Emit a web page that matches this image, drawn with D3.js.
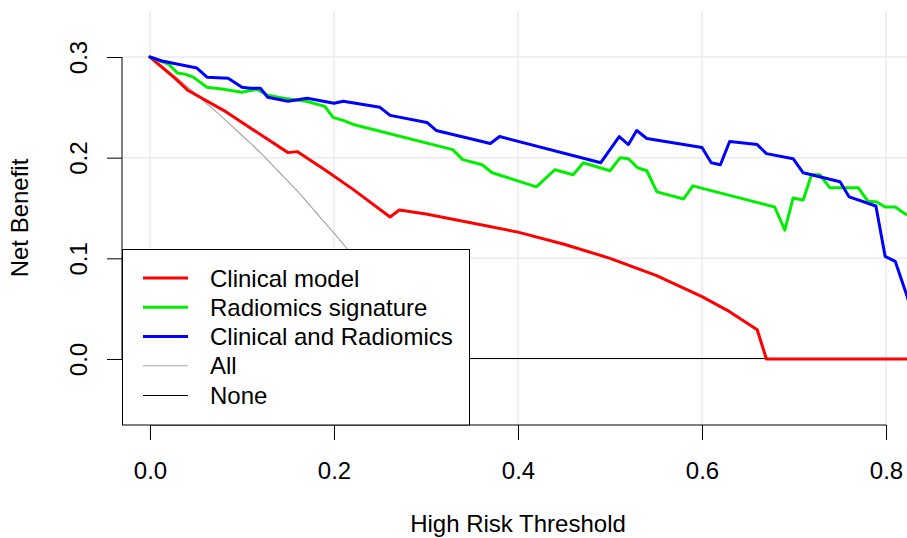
<!DOCTYPE html>
<html>
<head>
<meta charset="utf-8">
<script src="https://cdn.jsdelivr.net/npm/d3@7"></script>
<style>
  body { margin: 0; background: #fff; }
  svg { display: block; font-family: "Liberation Sans", Arial, sans-serif; }
</style>
</head>
<body>
<div id="chart"></div>
<script>
// data (threshold, net benefit)
const clinical = [[0, 0.300], [0.027, 0.279], [0.041, 0.267], [0.08, 0.247], [0.11, 0.229], [0.15, 0.205],
  [0.16, 0.206], [0.19, 0.188], [0.22, 0.169], [0.261, 0.141], [0.271, 0.148], [0.30, 0.144], [0.35, 0.135],
  [0.40, 0.126], [0.45, 0.114], [0.50, 0.100], [0.55, 0.083], [0.60, 0.062], [0.63, 0.047], [0.66, 0.029],
  [0.67, 0.000], [0.84, 0.000]];

const radiomics = [[0, 0.300], [0.02, 0.293], [0.03, 0.284], [0.038, 0.283], [0.047, 0.280], [0.062, 0.270],
  [0.08, 0.268], [0.10, 0.265], [0.116, 0.268], [0.128, 0.262], [0.145, 0.259], [0.17, 0.256], [0.19, 0.251],
  [0.199, 0.240], [0.21, 0.237], [0.221, 0.233], [0.329, 0.208], [0.34, 0.198], [0.361, 0.193], [0.372, 0.185],
  [0.42, 0.171], [0.44, 0.188], [0.46, 0.183], [0.471, 0.195], [0.50, 0.187], [0.511, 0.200], [0.52, 0.199],
  [0.53, 0.190], [0.54, 0.187], [0.551, 0.166], [0.58, 0.159], [0.59, 0.172], [0.679, 0.151], [0.69, 0.128],
  [0.699, 0.160], [0.71, 0.158], [0.719, 0.183], [0.728, 0.183], [0.739, 0.170], [0.77, 0.170], [0.78, 0.157],
  [0.79, 0.156], [0.799, 0.151], [0.81, 0.151], [0.821, 0.144], [0.83, 0.140]];

const combined = [[0, 0.300], [0.013, 0.296], [0.051, 0.289], [0.062, 0.280], [0.085, 0.279], [0.09, 0.276],
  [0.10, 0.270], [0.109, 0.269], [0.12, 0.269], [0.128, 0.260], [0.15, 0.256], [0.171, 0.259], [0.2, 0.254],
  [0.21, 0.256], [0.25, 0.250], [0.261, 0.242], [0.301, 0.235], [0.311, 0.227], [0.37, 0.214], [0.38, 0.221],
  [0.49, 0.195], [0.51, 0.221], [0.52, 0.213], [0.529, 0.227], [0.54, 0.219], [0.60, 0.210], [0.61, 0.195],
  [0.62, 0.193], [0.63, 0.216], [0.66, 0.213], [0.67, 0.204], [0.699, 0.199], [0.71, 0.185], [0.75, 0.176],
  [0.76, 0.161], [0.789, 0.152], [0.799, 0.102], [0.81, 0.097], [0.823, 0.062], [0.83, 0.040]];

const treatAll = [[0, 0.300], [0.02, 0.286], [0.04, 0.271], [0.06, 0.255], [0.08, 0.239], [0.10, 0.222],
  [0.12, 0.205], [0.14, 0.186], [0.16, 0.167], [0.18, 0.146], [0.20, 0.125], [0.22, 0.103], [0.24, 0.079],
  [0.26, 0.054], [0.28, 0.028], [0.30, 0.000], [0.32, -0.029], [0.34, -0.061]];

const treatNone = [[0, 0], [0.84, 0]];

const seriesNames = ["Clinical model", "Radiomics signature", "Clinical and Radiomics", "All", "None"];
const seriesColors = ["#ff0000", "#00ee00", "#0000ff", "#a6a6a6", "#000000"];
const seriesWidths = [3, 3, 3, 1.2, 1];

const xTicks = [0, 0.2, 0.4, 0.6, 0.8];
const yTicks = [0, 0.1, 0.2, 0.3];

//constants
const width = 907,
    height = 538,
    plot = { left: 122, right: 914, top: 11, bottom: 425 };

const xScale = d3.scaleLinear()
    .domain([-0.0304, 0.8304])
    .range([plot.left, plot.right]);

const yScale = d3.scaleLinear()
    .domain([-0.0656, 0.3457])
    .range([plot.bottom, plot.top]);

const svg = d3.select("#chart")
    .append("svg")
    .attr("width", width)
    .attr("height", height);

svg.append("defs").append("clipPath")
    .attr("id", "clip")
    .append("rect")
    .attr("x", plot.left)
    .attr("y", plot.top)
    .attr("width", plot.right - plot.left)
    .attr("height", plot.bottom - plot.top);

// grid
const grid = svg.append("g").attr("stroke", "#ebebeb").attr("stroke-width", 1.5);
grid.selectAll("line.vx")
    .data(xTicks)
    .join("line")
    .attr("class", "vx")
    .attr("x1", d => xScale(d)).attr("x2", d => xScale(d))
    .attr("y1", plot.top).attr("y2", plot.bottom);
grid.selectAll("line.hy")
    .data(yTicks)
    .join("line")
    .attr("class", "hy")
    .attr("x1", plot.left).attr("x2", plot.right)
    .attr("y1", d => yScale(d)).attr("y2", d => yScale(d));

// curves
const lineFunc = d3.line()
    .x(d => xScale(d[0]))
    .y(d => yScale(d[1]));

const smoothLine = d3.line()
    .x(d => xScale(d[0]))
    .y(d => yScale(d[1]))
    .curve(d3.curveMonotoneX);

const drawOrder = [
    { data: treatAll, i: 3, smooth: true },
    { data: treatNone, i: 4 },
    { data: clinical, i: 0 },
    { data: radiomics, i: 1 },
    { data: combined, i: 2 }
];

svg.append("g")
    .attr("clip-path", "url(#clip)")
    .selectAll("path")
    .data(drawOrder)
    .join("path")
    .attr("fill", "none")
    .attr("stroke", d => seriesColors[d.i])
    .attr("stroke-width", d => seriesWidths[d.i])
    .attr("stroke-linejoin", "round")
    .attr("stroke-linecap", "round")
    .attr("shape-rendering", d => d.i === 4 ? "crispEdges" : null)
    .attr("d", d => d.smooth ? smoothLine(d.data) : lineFunc(d.data));

// axes
const xAxis = d3.axisBottom(xScale)
    .tickValues(xTicks)
    .tickFormat(d3.format(".1f"))
    .tickSize(15)
    .tickPadding(22);

const yAxis = d3.axisLeft(yScale)
    .tickValues(yTicks)
    .tickFormat(d3.format(".1f"))
    .tickSize(15);

const gx = svg.append("g")
    .attr("transform", `translate(0,${plot.bottom})`)
    .call(xAxis);
gx.select(".domain").remove();
gx.append("line")
    .attr("x1", xScale(0)).attr("x2", xScale(0.8))
    .attr("stroke", "#000");

const gy = svg.append("g")
    .attr("transform", `translate(${plot.left},0)`)
    .call(yAxis);
gy.select(".domain").remove();
gy.append("line")
    .attr("y1", yScale(0)).attr("y2", yScale(0.3))
    .attr("stroke", "#000");
gy.selectAll(".tick text")
    .attr("x", null)
    .attr("dy", null)
    .attr("text-anchor", "middle")
    .attr("transform", "translate(-35,0) rotate(-90)");

svg.selectAll(".tick text")
    .attr("font-family", "Liberation Sans, Arial, sans-serif")
    .attr("font-size", 24)
    .attr("fill", "#000");
svg.selectAll(".tick line").attr("stroke", "#000");

// axis titles
svg.append("text")
    .attr("x", (plot.left + plot.right) / 2)
    .attr("y", 532)
    .attr("text-anchor", "middle")
    .attr("font-size", 24)
    .text("High Risk Threshold");

svg.append("text")
    .attr("transform", `translate(28,${(plot.top + plot.bottom) / 2}) rotate(-90)`)
    .attr("text-anchor", "middle")
    .attr("font-size", 24)
    .text("Net Benefit");

// legend
const legend = svg.append("g");
legend.append("rect")
    .attr("x", plot.left + 0.5)
    .attr("y", 249.5)
    .attr("width", 469 - plot.left)
    .attr("height", plot.bottom - 249.5)
    .attr("fill", "#fff")
    .attr("stroke", "#000")
    .attr("stroke-width", 1);

const legendY = d3.scaleLinear().domain([0, 4]).range([278, 395]);

const item = legend.selectAll("g.item")
    .data(seriesNames)
    .join("g")
    .attr("class", "item")
    .attr("transform", (d, i) => `translate(0,${legendY(i)})`);

item.append("line")
    .attr("x1", 143).attr("x2", 188)
    .attr("stroke", (d, i) => seriesColors[i])
    .attr("stroke-width", (d, i) => seriesWidths[i])
    .attr("shape-rendering", (d, i) => i === 4 ? "crispEdges" : null);

item.append("text")
    .attr("x", 210)
    .attr("y", 8.5)
    .attr("font-size", 24)
    .text(d => d);
</script>
</body>
</html>
